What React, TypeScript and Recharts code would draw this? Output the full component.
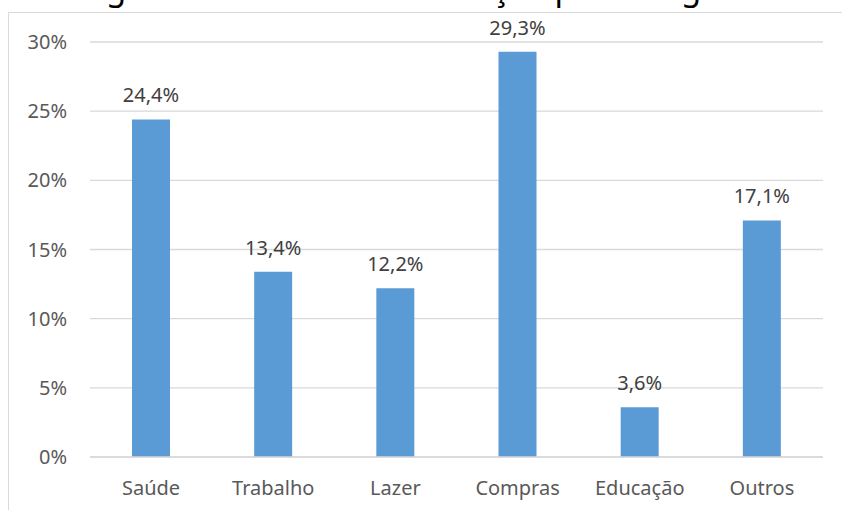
import React from "react";
import { BarChart, Bar, XAxis, YAxis, CartesianGrid, LabelList } from "recharts";

const categories = ["Saúde", "Trabalho", "Lazer", "Compras", "Educação", "Outros"];
const shares = [24.4, 13.4, 12.2, 29.3, 3.6, 17.1];
const yTicks = [0, 5, 10, 15, 20, 25, 30];

const FONT = "'Noto Sans', sans-serif";
const BAR_COLOR = "#5B9BD5";

const data = categories.map((name, i) => ({ name, value: shares[i] }));

const pct = (v: number) => `${String(v).replace(".", ",")}%`;

export default function App() {
  return (
    <div
      style={{
        position: "absolute",
        left: 0,
        top: 0,
        width: 842,
        height: 510,
        overflow: "hidden",
        background: "#fff",
        fontFamily: FONT,
      }}
    >
      {/* frame + title sitting above the plot area (title runs off the top edge) */}
      <svg width={842} height={510} style={{ position: "absolute", left: 0, top: 0 }}>
        <line x1={8.5} y1={12.5} x2={842} y2={12.5} stroke="#D9D9D9" strokeWidth={1} />
        <line x1={8.5} y1={12.5} x2={8.5} y2={510} stroke="#D9D9D9" strokeWidth={1} />
        <text
          x={421}
          y={0}
          textAnchor="middle"
          fontFamily={FONT}
          fontSize={32.8}
          fill="#000"
        >
          Figura 3 – Motivo de utilização por categoria
        </text>
      </svg>
      <div style={{ position: "absolute", left: 0, top: 0 }}>
        <BarChart
          width={842}
          height={510}
          data={data}
          margin={{ top: 42, right: 19, bottom: 23, left: 0 }}
        >
          <CartesianGrid vertical={false} stroke="#D9D9D9" strokeWidth={1.3} />
          <XAxis
            dataKey="name"
            height={30}
            axisLine={{ stroke: "#D9D9D9", strokeWidth: 1.3 }}
            tickLine={false}
            tickSize={0}
            tickMargin={24}
            tick={{ fill: "#595959", fontSize: 20, fontFamily: FONT }}
          />
          <YAxis
            width={90}
            domain={[0, 30]}
            ticks={yTicks}
            tickFormatter={(v: number) => `${v}%`}
            axisLine={false}
            tickLine={false}
            tickSize={0}
            tickMargin={23}
            tick={{ fill: "#595959", fontSize: 20, fontFamily: FONT }}
          />
          <Bar dataKey="value" fill={BAR_COLOR} barSize={38} isAnimationActive={false}>
            <LabelList
              dataKey="value"
              position="top"
              offset={17}
              formatter={(v: number) => pct(v)}
              fill="#404040"
              fontSize={20}
              fontFamily={FONT}
            />
          </Bar>
        </BarChart>
      </div>
    </div>
  );
}
